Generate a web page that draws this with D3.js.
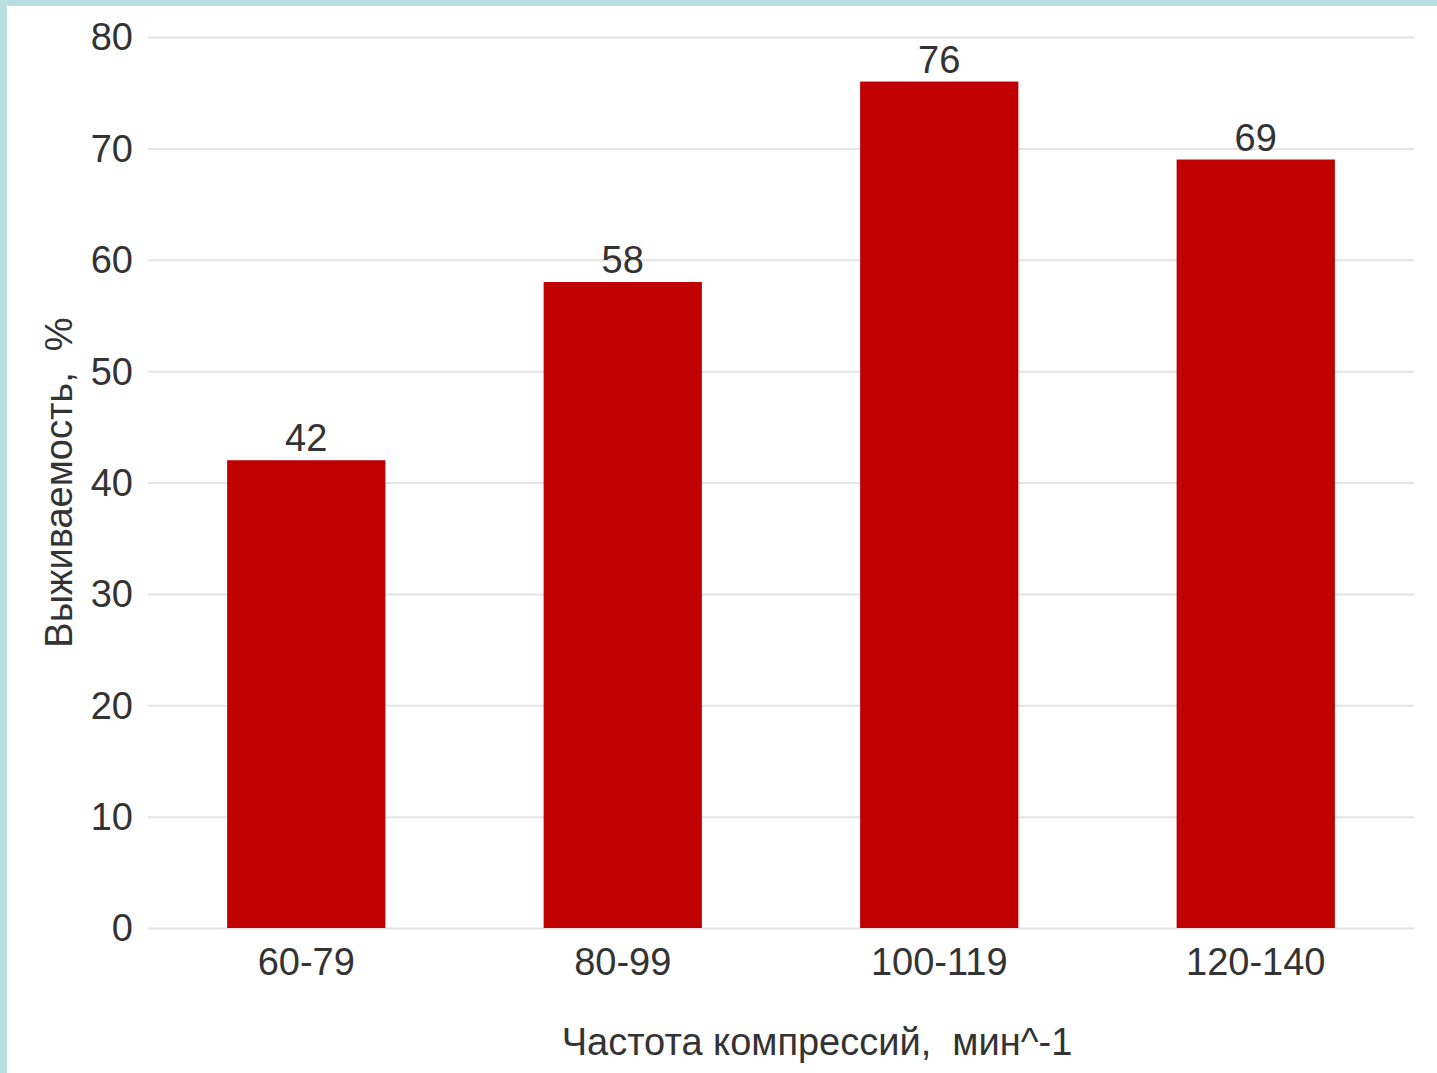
<!DOCTYPE html>
<html>
<head>
<meta charset="utf-8">
<script src="https://cdn.jsdelivr.net/npm/d3@7/dist/d3.min.js"></script>
<style>
  html, body { margin: 0; padding: 0; background: #b9dfe3; }
  svg { display: block; }
  text { font-family: "Liberation Sans", Arial, sans-serif; fill: #333333; }
</style>
</head>
<body>
<script>
// Survival rate by chest compression frequency
const categories = ["60-79", "80-99", "100-119", "120-140"];
const survival = [42, 58, 76, 69];
const yTicks = [0, 10, 20, 30, 40, 50, 60, 70, 80];
const xTitle = "Частота компрессий,  мин^-1";
const yTitle = "Выживаемость,  %";

const W = 1437, H = 1073;
const plot = { left: 148, right: 1414, top: 37, bottom: 928 };
const fontSize = 38;

const svg = d3.select("body").append("svg").attr("width", W).attr("height", H);

// white card with a thin frame on the top and left edges
svg.append("rect").attr("x", 7).attr("y", 6).attr("width", W - 7).attr("height", H - 6).attr("fill", "#ffffff");

const x = d3.scaleBand().domain(categories).range([plot.left, plot.right])
  .paddingInner(0.5).paddingOuter(0.25);
const y = d3.scaleLinear().domain([0, 80]).range([plot.bottom, plot.top]);

// horizontal gridlines + y tick labels
const yAxis = svg.append("g").attr("transform", `translate(${plot.left},0)`)
  .call(d3.axisLeft(y).tickValues(yTicks).tickSize(-(plot.right - plot.left)).tickPadding(15));
yAxis.select(".domain").remove();
yAxis.selectAll(".tick line").attr("stroke", "#e3e3e3").attr("stroke-width", 2);
yAxis.selectAll(".tick text").attr("font-size", fontSize).attr("fill", "#333333").attr("dy", "0.34em");

// bars
svg.append("g").selectAll("rect").data(categories).join("rect")
  .attr("x", d => x(d))
  .attr("width", x.bandwidth())
  .attr("y", (d, i) => y(survival[i]))
  .attr("height", (d, i) => y(0) - y(survival[i]))
  .attr("fill", "#c00000");

// value labels above bars
svg.append("g").selectAll("text").data(categories).join("text")
  .attr("x", d => x(d) + x.bandwidth() / 2)
  .attr("y", (d, i) => y(survival[i]) - 9)
  .attr("text-anchor", "middle")
  .attr("font-size", fontSize)
  .text((d, i) => survival[i]);

// category labels
const xAxis = svg.append("g").attr("transform", `translate(0,${plot.bottom})`)
  .call(d3.axisBottom(x).tickSize(0).tickPadding(20));
xAxis.select(".domain").remove();
xAxis.selectAll(".tick text").attr("font-size", fontSize).attr("fill", "#333333");

// axis titles
svg.append("text")
  .attr("x", 817).attr("y", 1055)
  .attr("text-anchor", "middle").attr("font-size", fontSize)
  .style("white-space", "pre")
  .text(xTitle);

svg.append("text")
  .attr("transform", `translate(72,${(plot.top + plot.bottom) / 2}) rotate(-90)`)
  .attr("text-anchor", "middle").attr("font-size", fontSize)
  .style("white-space", "pre")
  .text(yTitle);
</script>
</body>
</html>
